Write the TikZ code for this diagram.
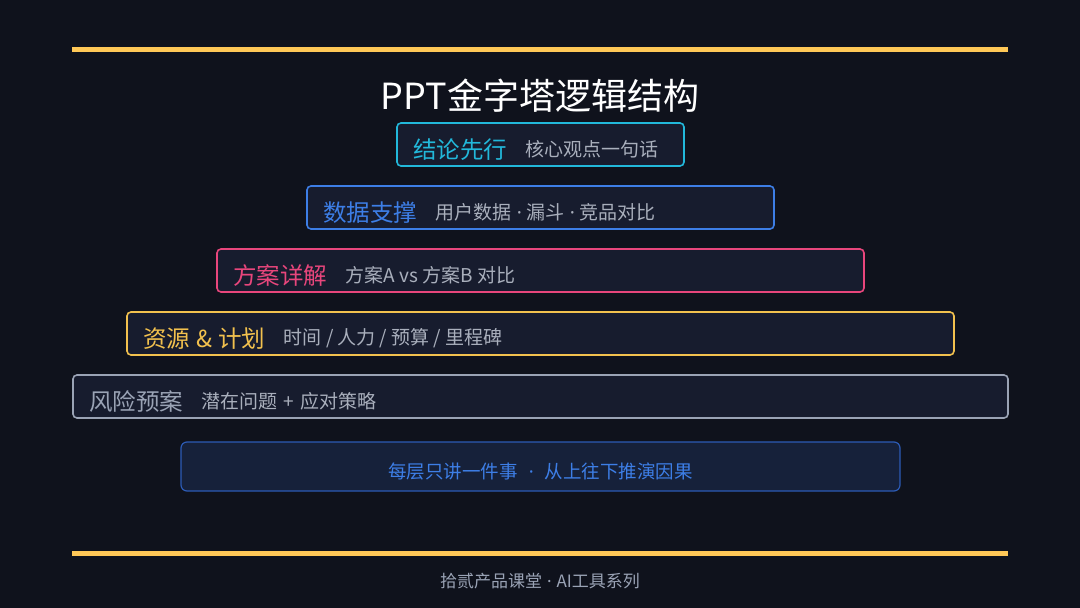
\documentclass[tikz,border=0pt]{standalone}
\usepackage{fontspec}
\setmainfont{Noto Sans CJK SC}
\newfontfamily\latinfont{Noto Sans}
\usetikzlibrary{positioning}
\definecolor{bgdark}{HTML}{0F121C}
\definecolor{boxfill}{HTML}{171C2E}
\definecolor{goldline}{HTML}{FFC857}
\definecolor{cyanc}{HTML}{22B8DA}
\definecolor{bluec}{HTML}{3D7EE6}
\definecolor{pinkc}{HTML}{E8467C}
\definecolor{yellowc}{HTML}{F2C14E}
\definecolor{grayc}{HTML}{9AA3B5}
\definecolor{subgray}{HTML}{A9AFBC}
\definecolor{notefill}{HTML}{16213A}
\definecolor{noteline}{HTML}{2C5BB5}
\newcommand\sepdot{\hspace{5pt}{\latinfont ·}\hspace{5pt}}
\newcommand\gap{\hspace{6pt}}

\begin{document}
\begin{tikzpicture}[x=1pt, y=-1pt, node distance=18pt,
      layer/.style={draw=#1, line width=1.6pt, fill=boxfill, rounded corners=4pt,
        minimum height=43pt, inner sep=0pt},
      head/.style={text=#1, inner sep=0pt, font=\fontsize{23.5}{27}\selectfont},
      sub/.style={text=subgray, inner sep=0pt, font=\fontsize{19}{22}\selectfont},
      goldbar/.style={goldline, line width=5pt}]
    \useasboundingbox[fill=bgdark] (0,0) rectangle (1080,608);
    \draw[goldbar] (72,49) -- (1008,49);
    \draw[goldbar] (72,553) -- (1008,553);
    \node (title) at (540,96) [text=white, font=\fontsize{36}{40}\selectfont] {PPT金字塔逻辑结构};

    \node (L1) at (540.5,144.5) [layer=cyanc, minimum width=287pt] {};
    \node (L2) at (540.5,207.5) [layer=bluec, minimum width=467pt] {};
    \node (L3) at (540.5,270.5) [layer=pinkc, minimum width=647pt] {};
    \node (L4) at (540.5,333.5) [layer=yellowc, minimum width=827pt] {};
    \node (L5) at (540.5,396.5) [layer=grayc, minimum width=935pt] {};

    \node (H1) [head=cyanc, anchor=west] at ([xshift=17pt, yshift=-5pt]L1.west) {结论先行};
    \node (S1) [sub, right=of H1] {核心观点一句话};
    \node (H2) [head=bluec, anchor=west] at ([xshift=17pt, yshift=-5pt]L2.west) {数据支撑};
    \node (S2) [sub, right=of H2] {用户数据\sepdot 漏斗\sepdot 竞品对比};
    \node (H3) [head=pinkc, anchor=west] at ([xshift=17pt, yshift=-5pt]L3.west) {方案详解};
    \node (S3) [sub, right=of H3] {方案A vs 方案B 对比};
    \node (H4) [head=yellowc, anchor=west] at ([xshift=17pt, yshift=-5pt]L4.west) {资源\gap\&\gap 计划};
    \node (S4) [sub, right=of H4] {时间 / 人力 / 预算 / 里程碑};
    \node (H5) [head=grayc, anchor=west] at ([xshift=17pt, yshift=-5pt]L5.west) {风险预案};
    \node (S5) [sub, right=of H5] {潜在问题\gap+\gap 应对策略};

    \node (note) at (540.5,466.5) [draw=noteline, line width=1.2pt, fill=notefill, rounded corners=6pt,
      minimum width=719pt, minimum height=49pt, text=bluec, font=\fontsize{18.5}{22}\selectfont]
      {\raisebox{-11.5pt}[0pt][0pt]{每层只讲一件事\hspace{6pt}\sepdot\hspace{6pt}从上往下推演因果}};

    \node (footer) at (540,581) [text=grayc, font=\fontsize{17}{20}\selectfont] {拾贰产品课堂\sepdot AI工具系列};
  \end{tikzpicture}
\end{document}
